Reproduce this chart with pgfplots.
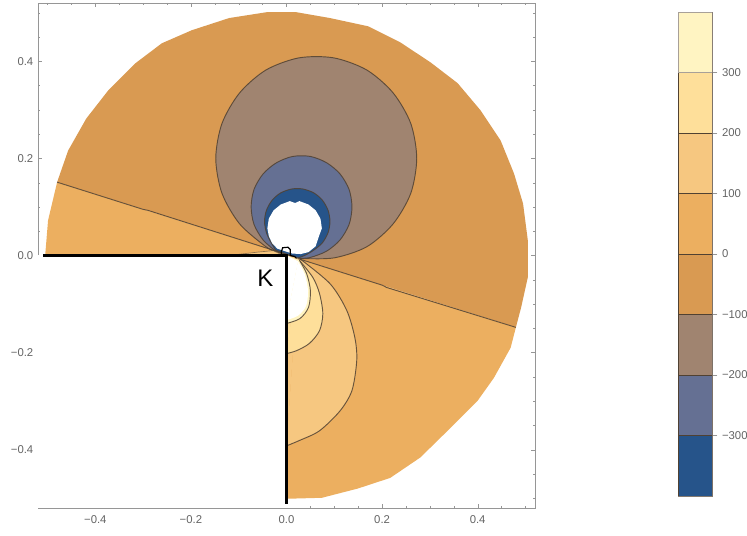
\documentclass[border=0pt]{standalone}
\usepackage{fontspec}
\setmainfont{Liberation Sans}
\usepackage{pgfplots}
\pgfplotsset{compat=1.18}
\definecolor{cPale}{RGB}{255,244,194}
\definecolor{cC3}{RGB}{254,223,154}
\definecolor{cC2}{RGB}{246,199,128}
\definecolor{cC1}{RGB}{236,175,96}
\definecolor{cN1}{RGB}{217,154,82}
\definecolor{cN2}{RGB}{160,132,112}
\definecolor{cN3}{RGB}{101,112,147}
\definecolor{cN4}{RGB}{38,84,138}
\definecolor{cLine}{RGB}{80,65,50}
\definecolor{cFrame}{RGB}{150,150,150}
\definecolor{cLab}{RGB}{100,100,100}
\begin{document}
\begin{tikzpicture}
\useasboundingbox (0,0) rectangle (560.25pt,402pt);
\begin{axis}[
  at={(28.5pt,21pt)}, anchor=south west, scale only axis,
  width=372.75pt, height=378.75pt,
  xmin=-0.52, xmax=0.52, ymin=-0.52, ymax=0.52,
  axis line style={draw=cFrame},
  xtick={-0.4,-0.2,0,0.2,0.4}, xticklabels={−0.4,−0.2,0.0,0.2,0.4},
  ytick={-0.4,-0.2,0,0.2,0.4}, yticklabels={−0.4,−0.2,0.0,0.2,0.4},
  minor xtick={-0.5,-0.45,-0.35,-0.3,-0.25,-0.15,-0.1,-0.05,0.05,0.1,0.15,0.25,0.3,0.35,0.45,0.5},
  minor ytick={-0.5,-0.45,-0.35,-0.3,-0.25,-0.15,-0.1,-0.05,0.05,0.1,0.15,0.25,0.3,0.35,0.45,0.5},
  tick align=inside, major tick length=3pt, minor tick length=1.8pt,
  tick style={draw=cFrame},
  ticklabel style={font=\fontsize{8.5}{8.5}\selectfont, text=cLab},
  xticklabel style={yshift=-2pt},
  contour/.style={draw=cLine, draw opacity=0.85, line width=0.7pt},
]
% upper region (-100..0)
\addplot[fill=cN1, draw=none] coordinates {(-0.025,0.01) (-0.48,0.151) (-0.457,0.216) (-0.419,0.282) (-0.373,0.34) (-0.316,0.396) (-0.261,0.437) (-0.198,0.464) (-0.12,0.489) (-0.042,0.501) (0.021,0.501) (0.091,0.489) (0.171,0.472) (0.238,0.439) (0.301,0.398) (0.358,0.355) (0.406,0.299) (0.448,0.237) (0.476,0.169) (0.495,0.107) (0.505,0.031) (0.505,-0.045) (0.491,-0.107) (0.48,-0.148) (0.023,-0.006) (0,0.014)} -- cycle;
% lower region (0..100)
\addplot[fill=cC1, draw=none] coordinates {(-0.48,0.151) (-0.499,0.072) (-0.505,0) (0,0) (0,-0.501) (0.074,-0.499) (0.149,-0.48) (0.217,-0.458) (0.28,-0.416) (0.337,-0.361) (0.4,-0.299) (0.434,-0.252) (0.469,-0.19) (0.48,-0.148) (0.023,-0.006) (-0.025,0.01)} -- cycle;
% -100 contour
\addplot[fill=cN2, contour, smooth] coordinates {(-0.022,0.008) (-0.043,0.018) (-0.098,0.065) (-0.135,0.128) (-0.148,0.2) (-0.135,0.272) (-0.098,0.335) (-0.043,0.382) (0.026,0.407) (0.099,0.407) (0.168,0.382) (0.223,0.335) (0.26,0.272) (0.2725,0.2) (0.26,0.128) (0.223,0.065) (0.168,0.018) (0.099,-0.005) (0.027,-0.006)} -- cycle;
% -200 contour
\addplot[fill=cN3, contour, smooth] coordinates {(-0.024,0.01) (-0.049,0.032) (-0.068,0.064) (-0.074,0.1) (-0.068,0.136) (-0.049,0.168) (-0.021,0.191) (0.013,0.204) (0.05,0.204) (0.084,0.191) (0.112,0.168) (0.131,0.136) (0.137,0.1) (0.131,0.064) (0.112,0.032) (0.084,0.009) (0.05,-0.004) (0.027,-0.006)} -- cycle;
% -300 contour
\addplot[fill=cN4, contour, smooth] coordinates {(-0.023,0.011) (-0.033,0.028) (-0.042,0.047) (-0.046,0.07) (-0.042,0.093) (-0.030,0.114) (-0.012,0.129) (0.011,0.137) (0.034,0.137) (0.057,0.129) (0.075,0.114) (0.087,0.093) (0.091,0.07) (0.087,0.047) (0.075,0.026) (0.057,0.011) (0.038,0.0) (0.024,-0.005)} -- cycle;
% hole (values beyond the range)
\addplot[fill=white, draw=none] coordinates {(-0.019,0.014) (-0.03,0.025) (-0.037,0.04) (-0.04,0.056) (-0.037,0.076) (-0.027,0.093) (-0.012,0.105) (0.007,0.112) (0.018,0.108) (0.027,0.112) (0.046,0.105) (0.061,0.093) (0.071,0.076) (0.074,0.056) (0.068,0.04) (0.061,0.019) (0.046,0.007) (0.03,0.003) (0.012,0.004)} -- cycle;
% 100..200
\addplot[fill=cC2, draw=none, smooth] coordinates {(0.027,-0.006) (0.091,-0.058) (0.126,-0.113) (0.143,-0.169) (0.147,-0.216) (0.137,-0.278) (0.112,-0.32) (0.069,-0.361) (0.027,-0.381) (0,-0.392)} -- cycle;
\addplot[fill=cC2, draw=none] coordinates {(0.027,-0.006) (0,-0.392) (0,0)} -- cycle;
\addplot[contour, smooth] coordinates {(0.027,-0.006) (0.091,-0.058) (0.126,-0.113) (0.143,-0.169) (0.147,-0.216) (0.137,-0.278) (0.112,-0.32) (0.069,-0.361) (0.027,-0.381) (0,-0.392)};
% 200..300
\addplot[fill=cC3, draw=none, smooth] coordinates {(0.027,-0.01) (0.055,-0.045) (0.069,-0.078) (0.076,-0.12) (0.069,-0.155) (0.048,-0.181) (0.021,-0.196) (0,-0.202)} -- cycle;
\addplot[fill=cC3, draw=none] coordinates {(0.027,-0.01) (0,-0.202) (0,0)} -- cycle;
\addplot[contour, smooth] coordinates {(0.027,-0.01) (0.055,-0.045) (0.069,-0.078) (0.076,-0.12) (0.069,-0.155) (0.048,-0.181) (0.021,-0.196) (0,-0.202)};
% >300
\addplot[fill=cPale, draw=none, smooth] coordinates {(0.027,-0.01) (0.042,-0.037) (0.05,-0.072) (0.046,-0.107) (0.028,-0.13) (0,-0.14)} -- cycle;
\addplot[fill=cPale, draw=none] coordinates {(0.027,-0.01) (0,-0.14) (0,0)} -- cycle;
\addplot[contour, smooth] coordinates {(0.027,-0.01) (0.042,-0.037) (0.05,-0.072) (0.046,-0.107) (0.028,-0.13) (0,-0.14)};
\addplot[fill=white, draw=none, smooth] coordinates {(0.024,-0.012) (0.038,-0.038) (0.045,-0.072) (0.041,-0.104) (0.024,-0.124) (0,-0.133)} -- cycle;
\addplot[fill=white, draw=none] coordinates {(0.024,-0.012) (0,-0.133) (0,0)} -- cycle;
% thin wedge on left
\addplot[fill=cC2, draw=cLine, draw opacity=0.6, line width=0.5pt] coordinates {(-0.12,0) (-0.06,0.007) (-0.028,0.01) (-0.015,0.004) (-0.01,0)} -- cycle;
% zero contour
\addplot[contour] coordinates {(-0.48,0.151) (-0.3,0.095) (-0.29,0.093) (-0.025,0.01)};
\addplot[contour] coordinates {(0.023,-0.006) (0.2,-0.061) (0.21,-0.066) (0.48,-0.148)};
% cut-out quadrant
\addplot[fill=white, draw=none] coordinates {(-0.52,0) (0,0) (0,-0.52) (-0.52,-0.52)} -- cycle;
% boundary of the cut-out
\addplot[black, line width=1.6pt] coordinates {(-0.509,0) (0,0) (0,-0.511)};
\addplot[black, line width=0.9pt] coordinates {(-0.011,0.002) (-0.011,0.007) (-0.008,0.016) (0.003,0.017) (0.008,0.012) (0.008,0.0) (0.017,-0.002) (0.021,-0.006)};
\node[font=\fontsize{18}{18}\selectfont] at (axis cs:-0.044,-0.047) {K};
\end{axis}
\begin{axis}[
  at={(508.5pt,30pt)}, anchor=south west, scale only axis,
  width=25.5pt, height=363pt,
  xmin=0, xmax=1, ymin=-400, ymax=400,
  xtick=\empty,
  ytick={-300,-200,-100,0,100,200,300},
  yticklabels={−300,−200,−100,0,100,200,300},
  ytick pos=right, yticklabel pos=right,
  tick align=outside, major tick length=4pt,
  tick style={draw=cFrame},
  axis line style={draw=cLine!70},
  ticklabel style={font=\fontsize{8.5}{8.5}\selectfont, text=cLab},
]
\addplot[fill=cN4, draw=cLine, line width=0.4pt] coordinates {(0,-400) (1,-400) (1,-300) (0,-300)} -- cycle;
\addplot[fill=cN3, draw=cLine, line width=0.4pt] coordinates {(0,-300) (1,-300) (1,-200) (0,-200)} -- cycle;
\addplot[fill=cN2, draw=cLine, line width=0.4pt] coordinates {(0,-200) (1,-200) (1,-100) (0,-100)} -- cycle;
\addplot[fill=cN1, draw=cLine, line width=0.4pt] coordinates {(0,-100) (1,-100) (1,0) (0,0)} -- cycle;
\addplot[fill=cC1, draw=cLine, line width=0.4pt] coordinates {(0,0) (1,0) (1,100) (0,100)} -- cycle;
\addplot[fill=cC2, draw=cLine, line width=0.4pt] coordinates {(0,100) (1,100) (1,200) (0,200)} -- cycle;
\addplot[fill=cC3, draw=cLine, line width=0.4pt] coordinates {(0,200) (1,200) (1,300) (0,300)} -- cycle;
\addplot[fill=cPale, draw=cLine!50, line width=0.4pt] coordinates {(0,300) (1,300) (1,400) (0,400)} -- cycle;
\end{axis}
\end{tikzpicture}
\end{document}
